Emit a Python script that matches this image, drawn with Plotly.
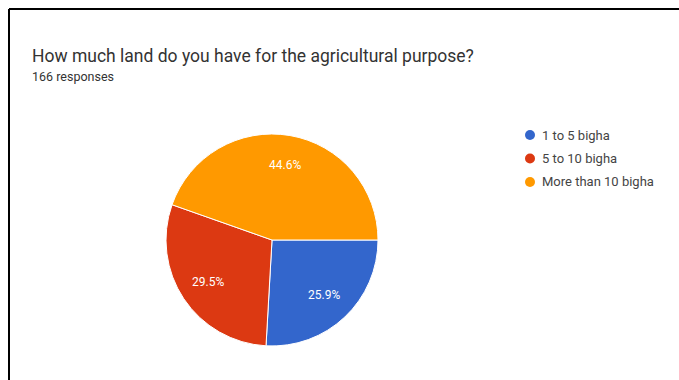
import math
import plotly.graph_objects as go

# Survey results
labels = ["1 to 5 bigha", "5 to 10 bigha", "More than 10 bigha"]
shares = [25.9, 29.5, 44.6]
colors = ["#3366cc", "#dc3912", "#ff9900"]
title = "How much land do you have for the agricultural purpose?"
subtitle = "166 responses"

W, H = 679, 380
FONT = "Roboto, Arial, sans-serif"

# pie placement in pixels
cx, cy, r = 272, 240, 106

fig = go.Figure(
    go.Pie(
        labels=labels,
        values=shares,
        sort=False,
        direction="clockwise",
        rotation=90,
        marker=dict(colors=colors, line=dict(color="white", width=1)),
        textinfo="none",
        hoverinfo="label+percent",
        showlegend=False,
        domain=dict(
            x=[(cx - r) / W, (cx + r) / W],
            y=[1 - (cy + r) / H, 1 - (cy - r) / H],
        ),
    )
)

shapes = [
    # card frame (top and left edges)
    dict(type="line", xref="paper", yref="paper",
         x0=9 / W, x1=1.0, y0=1 - 9 / H, y1=1 - 9 / H,
         line=dict(color="black", width=2)),
    dict(type="line", xref="paper", yref="paper",
         x0=9 / W, x1=9 / W, y0=0, y1=1 - 9 / H,
         line=dict(color="black", width=2)),
]

annotations = [
    dict(text=title, xref="paper", yref="paper", x=30 / W, y=1 - 56 / H,
         xanchor="left", yanchor="middle", showarrow=False,
         font=dict(family=FONT, size=17.5, color="#333333")),
    dict(text=subtitle, xref="paper", yref="paper", x=30 / W, y=1 - 77 / H,
         xanchor="left", yanchor="middle", showarrow=False,
         font=dict(family=FONT, size=12.5, color="#333333")),
]

# percentage labels at 72% of the radius, on each slice's bisector
total = sum(shares)
start = 0.0
for v in shares:
    mid = (start + v / 2) / total * 2 * math.pi  # clockwise from 3 o'clock
    start += v
    px = cx + 0.72 * r * math.cos(mid)
    py = cy + 0.72 * r * math.sin(mid)
    annotations.append(dict(text=f"{v:.1f}%", xref="paper", yref="paper",
                            x=px / W, y=1 - py / H, xanchor="center",
                            yanchor="middle", showarrow=False,
                            font=dict(family=FONT, size=12, color="white")))

# legend: coloured dots with labels
lx, ly0, dy = 530, 135, 23.5
for i, (lab, col) in enumerate(zip(labels, colors)):
    y = 1 - (ly0 + i * dy) / H
    shapes.append(dict(type="circle", xref="paper", yref="paper",
                       xsizemode="pixel", ysizemode="pixel",
                       xanchor=lx / W, yanchor=y,
                       x0=-5, x1=5, y0=-5, y1=5,
                       fillcolor=col, line=dict(width=0)))
    annotations.append(dict(text=lab, xref="paper", yref="paper",
                            x=(lx + 10) / W, y=y, xanchor="left",
                            yanchor="middle", showarrow=False,
                            font=dict(family=FONT, size=13, color="#444444")))

fig.update_layout(
    width=W, height=H,
    margin=dict(l=0, r=0, t=0, b=0),
    paper_bgcolor="white",
    plot_bgcolor="white",
    shapes=shapes,
    annotations=annotations,
)

fig.write_html("out.html")
